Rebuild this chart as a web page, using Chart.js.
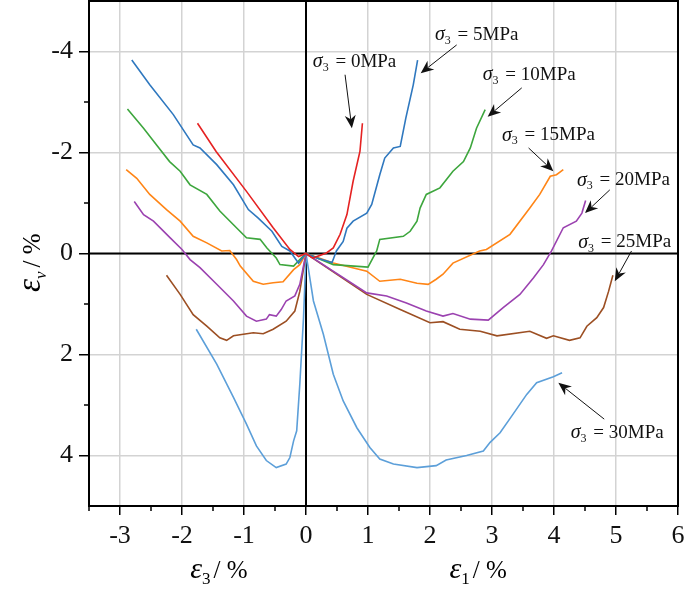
<!DOCTYPE html>
<html>
<head>
<meta charset="utf-8">
<script src="https://cdn.jsdelivr.net/npm/chart.js@4.4.1/dist/chart.umd.min.js"></script>
<style>
  html, body { margin: 0; padding: 0; background: #fff; }
  #wrap { width: 685px; height: 594px; }
</style>
</head>
<body>
<div id="wrap"><canvas id="strainChart" width="685" height="594"></canvas></div>
<script>
// tick labels
const xTicks = [-3, -2, -1, 0, 1, 2, 3, 4, 5, 6];
const yTicks = [-4, -2, 0, 2, 4];

// confining pressures (MPa) and line colours
const pressures = [0, 5, 10, 15, 20, 25, 30];
const colors = ["#e52222", "#2f78bf", "#3da63d", "#ff8516", "#9b42b0", "#9c4f23", "#5c9fd9"];

// lateral strain branch (eps3, eps_v), from curve end to origin
const s0Lateral = [[-1.75, -2.58], [-1.45, -2.02], [-0.96, -1.23], [-0.53, -0.51], [-0.26, -0.08], [-0.12, 0.06], [0, 0]];
const s5Lateral = [[-2.81, -3.83], [-2.52, -3.34], [-2.14, -2.75], [-1.82, -2.15], [-1.71, -2.09], [-1.44, -1.76], [-1.17, -1.36], [-0.93, -0.87], [-0.77, -0.70], [-0.55, -0.44], [-0.39, -0.14], [-0.26, -0.05], [-0.12, 0.19], [0, 0]];
const s10Lateral = [[-2.88, -2.86], [-2.62, -2.48], [-2.41, -2.15], [-2.20, -1.82], [-2.03, -1.63], [-1.87, -1.36], [-1.60, -1.17], [-1.39, -0.84], [-1.17, -0.57], [-0.96, -0.31], [-0.74, -0.28], [-0.63, -0.11], [-0.48, 0.09], [-0.42, 0.22], [-0.20, 0.25], [-0.10, 0.12], [0, 0]];
const s15Lateral = [[-2.90, -1.66], [-2.73, -1.49], [-2.52, -1.17], [-2.25, -0.87], [-2.03, -0.64], [-1.82, -0.34], [-1.60, -0.21], [-1.36, -0.05], [-1.23, -0.06], [-1.12, 0.12], [-1.06, 0.25], [-0.85, 0.55], [-0.69, 0.61], [-0.53, 0.58], [-0.37, 0.56], [-0.20, 0.32], [-0.10, 0.22], [0, 0]];
const s20Lateral = [[-2.77, -1.03], [-2.62, -0.77], [-2.46, -0.64], [-2.19, -0.31], [-2.00, -0.08], [-1.87, 0.12], [-1.71, 0.28], [-1.44, 0.61], [-1.17, 0.94], [-0.96, 1.24], [-0.80, 1.34], [-0.64, 1.30], [-0.59, 1.21], [-0.48, 1.24], [-0.40, 1.11], [-0.32, 0.94], [-0.18, 0.84], [-0.10, 0.61], [0, 0]];
const s25Lateral = [[-2.25, 0.43], [-2.03, 0.81], [-1.82, 1.21], [-1.60, 1.44], [-1.39, 1.67], [-1.28, 1.72], [-1.17, 1.63], [-0.85, 1.57], [-0.69, 1.59], [-0.53, 1.50], [-0.32, 1.34], [-0.18, 1.14], [-0.10, 0.75], [0, 0]];
const s30Lateral = [[-1.77, 1.50], [-1.44, 2.19], [-1.17, 2.85], [-0.96, 3.38], [-0.80, 3.81], [-0.64, 4.10], [-0.48, 4.24], [-0.32, 4.17], [-0.26, 4.04], [-0.20, 3.71], [-0.15, 3.51], [-0.10, 2.59], [-0.04, 1.27], [0, 0]];

// axial strain branch (eps1, eps_v), from origin to curve end
const s0Axial = [[0, 0], [0.11, 0.09], [0.33, -0.01], [0.44, -0.11], [0.55, -0.38], [0.66, -0.77], [0.76, -1.43], [0.87, -2.02], [0.91, -2.58]];
const s5Axial = [[0, 0], [0.20, 0.10], [0.42, 0.18], [0.46, 0.05], [0.49, -0.05], [0.60, -0.24], [0.66, -0.50], [0.76, -0.64], [0.98, -0.80], [1.06, -0.97], [1.19, -1.56], [1.27, -1.89], [1.41, -2.09], [1.52, -2.12], [1.61, -2.68], [1.73, -3.34], [1.80, -3.83]];
const s10Axial = [[0, 0], [0.44, 0.22], [1.00, 0.27], [1.14, -0.05], [1.19, -0.28], [1.57, -0.34], [1.68, -0.44], [1.79, -0.64], [1.84, -0.90], [1.94, -1.17], [2.16, -1.30], [2.37, -1.63], [2.54, -1.82], [2.65, -2.09], [2.75, -2.48], [2.89, -2.85]];
const s15Axial = [[0, 0], [0.44, 0.19], [0.98, 0.35], [1.19, 0.55], [1.52, 0.51], [1.79, 0.59], [1.97, 0.61], [2.10, 0.51], [2.21, 0.41], [2.37, 0.19], [2.80, -0.05], [2.91, -0.08], [3.29, -0.38], [3.61, -0.90], [3.77, -1.17], [3.94, -1.53], [4.04, -1.56], [4.15, -1.66]];
const s20Axial = [[0, 0], [0.98, 0.78], [1.30, 0.84], [1.62, 0.98], [1.94, 1.14], [2.21, 1.24], [2.37, 1.19], [2.65, 1.30], [2.94, 1.32], [3.18, 1.07], [3.45, 0.81], [3.67, 0.48], [3.83, 0.22], [3.96, -0.05], [4.15, -0.51], [4.36, -0.64], [4.45, -0.80], [4.51, -1.05]];
const s25Axial = [[0, 0], [0.98, 0.81], [1.52, 1.11], [2.00, 1.37], [2.21, 1.35], [2.48, 1.50], [2.81, 1.54], [3.08, 1.63], [3.61, 1.54], [3.88, 1.68], [3.99, 1.63], [4.25, 1.72], [4.42, 1.67], [4.53, 1.44], [4.69, 1.27], [4.80, 1.07], [4.88, 0.75], [4.95, 0.43]];
const s30Axial = [[0, 0], [0.12, 0.94], [0.28, 1.60], [0.44, 2.39], [0.60, 2.92], [0.82, 3.45], [1.03, 3.84], [1.19, 4.07], [1.41, 4.17], [1.79, 4.24], [2.10, 4.20], [2.26, 4.09], [2.59, 4.00], [2.86, 3.91], [2.97, 3.74], [3.13, 3.55], [3.34, 3.18], [3.56, 2.79], [3.72, 2.56], [3.99, 2.44], [4.13, 2.36]];

const lateral = [s0Lateral, s5Lateral, s10Lateral, s15Lateral, s20Lateral, s25Lateral, s30Lateral];
const axial = [s0Axial, s5Axial, s10Axial, s15Axial, s20Axial, s25Axial, s30Axial];

// label anchors and arrows in data units: [textX, textY, fromX, fromY, toX, toY]
const labelSpots = [
    [0.11, -3.80, 0.63, -3.54, 0.74, -2.48],
    [2.08, -4.33, 2.43, -4.13, 1.85, -3.57],
    [2.85, -3.54, 3.48, -3.28, 2.93, -2.71],
    [3.16, -2.34, 3.59, -2.09, 3.99, -1.63],
    [4.37, -1.45, 4.90, -1.26, 4.50, -0.80],
    [4.39, -0.22, 5.25, -0.05, 4.98, 0.55],
    [4.27, 3.55, 4.81, 3.28, 4.07, 2.56]
];

const SERIF = "'Liberation Serif', 'DejaVu Serif', serif";

function drawRich(ctx, x, y, parts) {
    let cx = x;
    parts.forEach(p => {
        ctx.font = (p.italic ? "italic " : "") + p.size + "px " + SERIF;
        ctx.fillText(p.t, cx, y + (p.dy || 0));
        cx += ctx.measureText(p.t).width + (p.gap || 0);
    });
    return cx - x;
}

function arrow(ctx, x1, y1, x2, y2) {
    const a = Math.atan2(y2 - y1, x2 - x1);
    const len = 13, half = 5.5;
    const bx = x2 - len * Math.cos(a), by = y2 - len * Math.sin(a);
    ctx.beginPath();
    ctx.moveTo(x1, y1);
    ctx.lineTo(bx + 4 * Math.cos(a), by + 4 * Math.sin(a));
    ctx.stroke();
    ctx.beginPath();
    ctx.moveTo(x2, y2);
    ctx.lineTo(bx - half * Math.sin(a), by + half * Math.cos(a));
    ctx.lineTo(bx + 4 * Math.cos(a), by + 4 * Math.sin(a));
    ctx.lineTo(bx + half * Math.sin(a), by - half * Math.cos(a));
    ctx.closePath();
    ctx.fill();
}

const framePlugin = {
    id: "frame",
    beforeDatasetsDraw(chart) {
        const { ctx, chartArea: a, scales: { x, y } } = chart;
        ctx.save();
        ctx.strokeStyle = "#000";
        ctx.lineWidth = 2;
        const x0 = x.getPixelForValue(0), y0 = y.getPixelForValue(0);
        ctx.beginPath();
        ctx.moveTo(x0, a.top); ctx.lineTo(x0, a.bottom);
        ctx.moveTo(a.left, y0); ctx.lineTo(a.right, y0);
        ctx.stroke();
        ctx.restore();
    },
    afterDraw(chart) {
        const { ctx, chartArea: a, scales: { x, y } } = chart;
        ctx.save();
        ctx.strokeStyle = "#000";
        ctx.lineWidth = 2;
        ctx.strokeRect(a.left, a.top, a.right - a.left, a.bottom - a.top);

        // minor ticks
        ctx.lineWidth = 1.5;
        ctx.beginPath();
        for (let v = -3.5; v <= 5.5; v += 1) {
            const px = x.getPixelForValue(v);
            ctx.moveTo(px, a.bottom); ctx.lineTo(px, a.bottom + 5);
        }
        [-3, -1, 1, 3].forEach(v => {
            const py = y.getPixelForValue(v);
            ctx.moveTo(a.left, py); ctx.lineTo(a.left - 5, py);
        });
        ctx.stroke();

        // labels with arrows
        ctx.fillStyle = "#111";
        ctx.strokeStyle = "#111";
        ctx.lineWidth = 1;
        ctx.textBaseline = "middle";
        ctx.textAlign = "left";
        labelSpots.forEach((s, i) => {
            const tx = x.getPixelForValue(s[0]), ty = y.getPixelForValue(s[1]);
            drawRich(ctx, tx, ty, [
                { t: "\u03c3", italic: true, size: 20 },
                { t: "3", size: 12, dy: 6, gap: 2 },
                { t: " = " + pressures[i] + "MPa", size: 19 }
            ]);
            arrow(ctx, x.getPixelForValue(s[2]), y.getPixelForValue(s[3]),
                x.getPixelForValue(s[4]), y.getPixelForValue(s[5]));
        });

        // axis titles
        ctx.fillStyle = "#000";
        ctx.textBaseline = "alphabetic";
        const ty = chart.height - 16;
        [["3", -1.27], ["1", 2.91]].forEach(([sub, v]) => {
            const parts = [
                { t: "\u03b5", italic: true, size: 30 },
                { t: sub, size: 17, dy: 6, gap: 3 },
                { t: "/ %", size: 25 }
            ];
            const w = 74;
            drawRich(ctx, x.getPixelForValue(v) - w / 2, ty, parts);
        });
        ctx.translate(40, 238);
        ctx.rotate(-Math.PI / 2);
        drawRich(ctx, -54, 0, [
            { t: "\u03b5", italic: true, size: 33 },
            { t: "v", italic: true, size: 17, dy: 6, gap: 4 },
            { t: "/ %", size: 25 }
        ]);
        ctx.restore();
    }
};

const datasets = pressures.map((p, i) => ({
    label: p + " MPa",
    data: lateral[i].concat(axial[i].slice(1)).map(([vx, vy]) => ({ x: vx, y: vy })),
    borderColor: colors[i],
    backgroundColor: colors[i],
    borderWidth: 1.6,
    showLine: true,
    pointRadius: 0,
    tension: 0
}));

const tickFont = { family: SERIF, size: 26 };

new Chart(document.getElementById("strainChart"), {
    type: "scatter",
    data: { datasets },
    options: {
        responsive: false,
        animation: false,
        devicePixelRatio: 1,
        layout: { padding: { left: 0, right: 7, top: 1, bottom: 0 } },
        plugins: {
            legend: { display: false },
            tooltip: { enabled: false }
        },
        scales: {
            x: {
                type: "linear",
                min: -3.5,
                max: 6,
                afterBuildTicks: s => { s.ticks = xTicks.map(v => ({ value: v })); },
                afterFit: s => { s.height = 88; s.paddingLeft = 0; s.paddingRight = 0; },
                border: { display: false },
                grid: { color: "#d3d3d3", lineWidth: 1.5, tickColor: "#000", tickLength: 9, tickWidth: 1.5 },
                ticks: { font: tickFont, color: "#111", padding: 6, maxRotation: 0, autoSkip: false }
            },
            y: {
                type: "linear",
                reverse: true,
                min: -5,
                max: 5,
                afterBuildTicks: s => { s.ticks = yTicks.map(v => ({ value: v })); },
                afterFit: s => { s.width = 89; s.paddingTop = 0; s.paddingBottom = 0; },
                border: { display: false },
                grid: { color: "#d3d3d3", lineWidth: 1.5, tickColor: "#000", tickLength: 10, tickWidth: 1.5 },
                ticks: { font: tickFont, color: "#111", padding: 6, autoSkip: false }
            }
        }
    },
    plugins: [framePlugin]
});
</script>
</body>
</html>
